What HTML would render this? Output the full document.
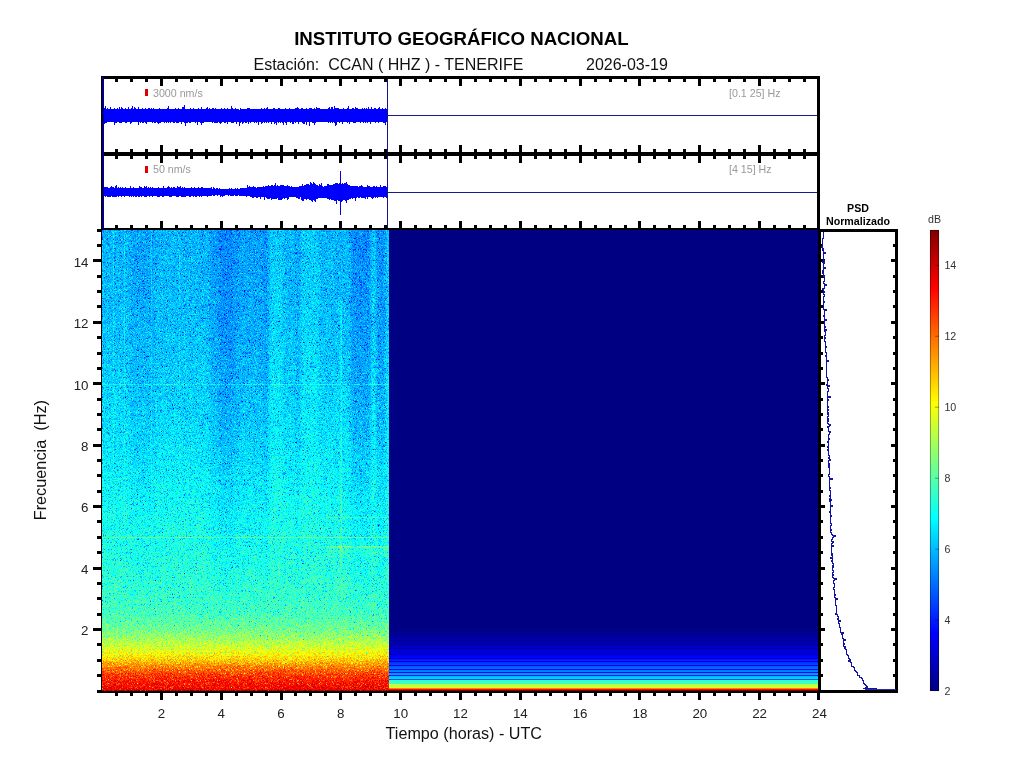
<!DOCTYPE html><html><head><meta charset="utf-8"><title>Espectrograma CCAN</title>
<style>html,body{margin:0;padding:0;background:#fff;overflow:hidden}body{width:1024px;height:768px;font-family:"Liberation Sans",sans-serif}svg{display:block;position:absolute;left:0;top:0;will-change:transform}text{font-family:"Liberation Sans",sans-serif}</style></head><body>
<svg width="1024" height="768" viewBox="0 0 1024 768">
<defs>
<filter id="jet" x="0" y="0" width="100%" height="100%" filterUnits="objectBoundingBox" color-interpolation-filters="sRGB">
<feTurbulence type="fractalNoise" baseFrequency="3.17 2.71" numOctaves="1" seed="11" result="t"/>
<feColorMatrix in="t" type="matrix" values="1 0 0 0 0  1 0 0 0 0  1 0 0 0 0  0 0 0 0 1" result="n0"/>
<feComponentTransfer in="n0" result="n">
<feFuncR type="table" tableValues="0.0800 0.1100 0.1500 0.2100 0.2800 0.3450 0.4000 0.4400 0.4650 0.4840 0.5000 0.5160 0.5320 0.5500 0.5680 0.5850 0.6000 0.6100 0.6200 0.6300 0.6400"/><feFuncG type="table" tableValues="0.0800 0.1100 0.1500 0.2100 0.2800 0.3450 0.4000 0.4400 0.4650 0.4840 0.5000 0.5160 0.5320 0.5500 0.5680 0.5850 0.6000 0.6100 0.6200 0.6300 0.6400"/><feFuncB type="table" tableValues="0.0800 0.1100 0.1500 0.2100 0.2800 0.3450 0.4000 0.4400 0.4650 0.4840 0.5000 0.5160 0.5320 0.5500 0.5680 0.5850 0.6000 0.6100 0.6200 0.6300 0.6400"/>
</feComponentTransfer>
<feComposite in="SourceGraphic" in2="n" operator="arithmetic" k1="0" k2="1" k3="1" k4="-0.5" result="v"/>
<feComponentTransfer in="v">
<feFuncR type="table" tableValues="0 0 0 0 0.5 1 1 1 0.5"/>
<feFuncG type="table" tableValues="0 0 0.5 1 1 1 0.5 0 0"/>
<feFuncB type="table" tableValues="0.5 1 1 1 0.5 0 0 0 0"/>
<feFuncA type="linear" slope="0" intercept="1"/>
</feComponentTransfer>
</filter>
<linearGradient id="gv" x1="0" y1="230" x2="0" y2="691" gradientUnits="userSpaceOnUse">
<stop offset="0.0003" stop-color="rgb(77,77,77)"/>
<stop offset="0.2002" stop-color="rgb(80,80,80)"/>
<stop offset="0.3334" stop-color="rgb(84,84,84)"/>
<stop offset="0.4667" stop-color="rgb(90,90,90)"/>
<stop offset="0.5999" stop-color="rgb(98,98,98)"/>
<stop offset="0.6666" stop-color="rgb(101,101,101)"/>
<stop offset="0.7332" stop-color="rgb(104,104,104)"/>
<stop offset="0.7998" stop-color="rgb(109,109,109)"/>
<stop offset="0.8331" stop-color="rgb(113,113,113)"/>
<stop offset="0.8664" stop-color="rgb(124,124,124)"/>
<stop offset="0.8831" stop-color="rgb(134,134,134)"/>
<stop offset="0.8998" stop-color="rgb(145,145,145)"/>
<stop offset="0.9197" stop-color="rgb(159,159,159)"/>
<stop offset="0.9331" stop-color="rgb(172,172,172)"/>
<stop offset="0.9464" stop-color="rgb(189,189,189)"/>
<stop offset="0.9631" stop-color="rgb(207,207,207)"/>
<stop offset="0.9797" stop-color="rgb(218,218,218)"/>
<stop offset="0.9930" stop-color="rgb(223,223,223)"/>
<stop offset="0.9970" stop-color="rgb(226,226,226)"/>
<stop offset="0.9997" stop-color="rgb(255,255,255)"/>
</linearGradient>
<linearGradient id="cb" x1="0" y1="0" x2="0" y2="1">
<stop offset="0" stop-color="rgb(128, 0, 0)"/>
<stop offset="0.125" stop-color="rgb(255, 0, 0)"/>
<stop offset="0.375" stop-color="rgb(255, 255, 0)"/>
<stop offset="0.625" stop-color="rgb(0, 255, 255)"/>
<stop offset="0.875" stop-color="rgb(0, 0, 255)"/>
<stop offset="1" stop-color="rgb(0, 0, 128)"/>
</linearGradient>
<linearGradient id="fg" x1="0" y1="230" x2="0" y2="630" gradientUnits="userSpaceOnUse"><stop offset="0" stop-color="#fff"/><stop offset="0.5" stop-color="#ccc"/><stop offset="0.8" stop-color="#555"/><stop offset="1" stop-color="#000"/></linearGradient>
<mask id="fade" maskUnits="userSpaceOnUse" x="100" y="228" width="292" height="465"><rect x="100" y="228" width="292" height="465" fill="url(#fg)"/></mask>
<filter id="hb" x="100" y="228" width="292" height="465" filterUnits="userSpaceOnUse" color-interpolation-filters="sRGB"><feGaussianBlur stdDeviation="1.6 0"/></filter>
</defs>
<rect width="1024" height="768" fill="#fff"/>
<text x="294.2" y="45" font-size="18.67" font-weight="bold" fill="#000" xml:space="preserve">INSTITUTO GEOGRÁFICO NACIONAL</text>
<text x="253.5" y="70.4" font-size="16" fill="#111" xml:space="preserve">Estación:  CCAN ( HHZ ) - TENERIFE</text>
<text x="586" y="70.4" font-size="16" fill="#111">2026-03-19</text>
<g filter="url(#jet)">
<rect x="102" y="230" width="287" height="461" fill="url(#gv)"/>
<g filter="url(#hb)">
<rect x="131" y="230" width="24" height="400" fill="#000" opacity="0.05" mask="url(#fade)"/>
<rect x="210" y="230" width="9" height="400" fill="#000" opacity="0.08" mask="url(#fade)"/>
<rect x="219" y="230" width="15" height="400" fill="#000" opacity="0.15" mask="url(#fade)"/>
<rect x="234" y="230" width="6" height="400" fill="#000" opacity="0.09" mask="url(#fade)"/>
<rect x="240" y="230" width="23" height="400" fill="#000" opacity="0.06" mask="url(#fade)"/>
<rect x="263" y="230" width="6" height="400" fill="#000" opacity="0.10" mask="url(#fade)"/>
<rect x="269" y="230" width="14" height="400" fill="#fff" opacity="0.04" mask="url(#fade)"/>
<rect x="297" y="230" width="2" height="400" fill="#000" opacity="0.10" mask="url(#fade)"/>
<rect x="301" y="230" width="18" height="400" fill="#fff" opacity="0.04" mask="url(#fade)"/>
<rect x="351" y="230" width="20" height="400" fill="#000" opacity="0.13" mask="url(#fade)"/>
<rect x="371" y="230" width="5" height="400" fill="#fff" opacity="0.04" mask="url(#fade)"/>
<rect x="376" y="230" width="10" height="400" fill="#000" opacity="0.11" mask="url(#fade)"/>
<rect x="386" y="230" width="3" height="400" fill="#fff" opacity="0.05" mask="url(#fade)"/>
</g>
<rect x="113" y="230" width="1" height="400" fill="#fff" opacity="0.05" mask="url(#fade)"/>
<rect x="124" y="230" width="1" height="400" fill="#fff" opacity="0.05" mask="url(#fade)"/>
<rect x="151" y="230" width="1" height="400" fill="#fff" opacity="0.05" mask="url(#fade)"/>
<rect x="179" y="230" width="1" height="400" fill="#fff" opacity="0.04" mask="url(#fade)"/>
<rect x="340.5" y="300" width="1.5" height="300" fill="#fff" opacity="0.08"/>
<rect x="326" y="548" width="63" height="9" fill="#fff" opacity="0.035"/>
<rect x="102" y="384" width="287" height="1" fill="#fff" opacity="0.09"/>
<rect x="102" y="537" width="287" height="1" fill="#fff" opacity="0.12"/>
<rect x="326" y="546" width="63" height="1.6" fill="#fff" opacity="0.17"/>
<rect x="327" y="517" width="62" height="1" fill="#fff" opacity="0.09"/>
</g>
<g shape-rendering="crispEdges">
<rect x="389" y="230" width="429" height="461" fill="rgb(0,0,131)"/>
<rect x="389" y="627" width="429" height="1" fill="rgb(0, 0, 131)"/>
<rect x="389" y="628" width="429" height="1" fill="rgb(0, 0, 135)"/>
<rect x="389" y="629" width="429" height="1" fill="rgb(0, 0, 139)"/>
<rect x="389" y="630" width="429" height="1" fill="rgb(0, 0, 131)"/>
<rect x="389" y="631" width="429" height="1" fill="rgb(0, 0, 146)"/>
<rect x="389" y="632" width="429" height="1" fill="rgb(0, 0, 149)"/>
<rect x="389" y="633" width="429" height="1" fill="rgb(0, 0, 151)"/>
<rect x="389" y="634" width="429" height="1" fill="rgb(0, 0, 154)"/>
<rect x="389" y="635" width="429" height="1" fill="rgb(0, 0, 135)"/>
<rect x="389" y="636" width="429" height="1" fill="rgb(0, 0, 159)"/>
<rect x="389" y="637" width="429" height="1" fill="rgb(0, 0, 162)"/>
<rect x="389" y="638" width="429" height="1" fill="rgb(0, 0, 164)"/>
<rect x="389" y="639" width="429" height="1" fill="rgb(0, 0, 167)"/>
<rect x="389" y="640" width="429" height="1" fill="rgb(0, 0, 143)"/>
<rect x="389" y="641" width="429" height="1" fill="rgb(0, 0, 174)"/>
<rect x="389" y="642" width="429" height="1" fill="rgb(0, 0, 178)"/>
<rect x="389" y="643" width="429" height="1" fill="rgb(0, 0, 182)"/>
<rect x="389" y="644" width="429" height="1" fill="rgb(0, 0, 151)"/>
<rect x="389" y="645" width="429" height="1" fill="rgb(0, 0, 190)"/>
<rect x="389" y="646" width="429" height="1" fill="rgb(0, 0, 194)"/>
<rect x="389" y="647" width="429" height="1" fill="rgb(0, 0, 198)"/>
<rect x="389" y="648" width="429" height="1" fill="rgb(0, 0, 160)"/>
<rect x="389" y="649" width="429" height="1" fill="rgb(0, 0, 208)"/>
<rect x="389" y="650" width="429" height="1" fill="rgb(0, 0, 213)"/>
<rect x="389" y="651" width="429" height="1" fill="rgb(0, 0, 218)"/>
<rect x="389" y="652" width="429" height="1" fill="rgb(0, 0, 223)"/>
<rect x="389" y="653" width="429" height="1" fill="rgb(0, 0, 228)"/>
<rect x="389" y="654" width="429" height="1" fill="rgb(0, 0, 179)"/>
<rect x="389" y="655" width="429" height="1" fill="rgb(0, 0, 246)"/>
<rect x="389" y="656" width="429" height="1" fill="rgb(0, 0, 255)"/>
<rect x="389" y="657" width="429" height="1" fill="rgb(0, 5, 255)"/>
<rect x="389" y="658" width="429" height="1" fill="rgb(0, 0, 199)"/>
<rect x="389" y="659" width="429" height="1" fill="rgb(0, 23, 255)"/>
<rect x="389" y="660" width="429" height="1" fill="rgb(0, 32, 255)"/>
<rect x="389" y="661" width="429" height="1" fill="rgb(0, 0, 213)"/>
<rect x="389" y="662" width="429" height="1" fill="rgb(0, 50, 255)"/>
<rect x="389" y="663" width="429" height="1" fill="rgb(0, 59, 255)"/>
<rect x="389" y="664" width="429" height="1" fill="rgb(0, 68, 255)"/>
<rect x="389" y="665" width="429" height="1" fill="rgb(0, 0, 233)"/>
<rect x="389" y="666" width="429" height="1" fill="rgb(0, 88, 255)"/>
<rect x="389" y="667" width="429" height="1" fill="rgb(0, 100, 255)"/>
<rect x="389" y="668" width="429" height="1" fill="rgb(0, 112, 255)"/>
<rect x="389" y="669" width="429" height="1" fill="rgb(0, 0, 255)"/>
<rect x="389" y="670" width="429" height="1" fill="rgb(0, 125, 255)"/>
<rect x="389" y="671" width="429" height="1" fill="rgb(0, 131, 255)"/>
<rect x="389" y="672" width="429" height="1" fill="rgb(0, 8, 255)"/>
<rect x="389" y="673" width="429" height="1" fill="rgb(0, 148, 255)"/>
<rect x="389" y="674" width="429" height="1" fill="rgb(0, 158, 255)"/>
<rect x="389" y="675" width="429" height="1" fill="rgb(0, 25, 255)"/>
<rect x="389" y="676" width="429" height="1" fill="rgb(0, 184, 255)"/>
<rect x="389" y="677" width="429" height="1" fill="rgb(0, 199, 255)"/>
<rect x="389" y="678" width="429" height="1" fill="rgb(0, 214, 255)"/>
<rect x="389" y="679" width="429" height="1" fill="rgb(0, 74, 255)"/>
<rect x="389" y="680" width="429" height="1" fill="rgb(46, 255, 209)"/>
<rect x="389" y="681" width="429" height="1" fill="rgb(53, 255, 202)"/>
<rect x="389" y="682" width="429" height="1" fill="rgb(60, 255, 195)"/>
<rect x="389" y="683" width="429" height="1" fill="rgb(66, 255, 189)"/>
<rect x="389" y="684" width="429" height="1" fill="rgb(189, 255, 66)"/>
<rect x="389" y="685" width="429" height="1" fill="rgb(195, 255, 60)"/>
<rect x="389" y="686" width="429" height="1" fill="rgb(202, 255, 53)"/>
<rect x="389" y="687" width="429" height="1" fill="rgb(209, 255, 46)"/>
<rect x="389" y="688" width="429" height="1" fill="rgb(255, 128, 0)"/>
<rect x="389" y="689" width="429" height="1" fill="rgb(255, 5, 0)"/>
<rect x="389" y="690" width="429" height="1" fill="rgb(128, 0, 0)"/>
</g>
<g shape-rendering="crispEdges" fill="none">
<path d="M102 109.0v14.4M103 107.1v15.0M104 107.8v16.0M105 105.9v16.8M106 108.6v14.3M107 108.1v13.6M108 109.2v12.5M109 109.2v13.2M110 107.0v14.6M111 108.5v13.7M112 108.8v13.2M113 109.1v13.3M114 108.4v16.5M115 108.9v13.8M116 109.4v13.1M117 108.2v13.8M118 108.6v13.6M119 107.2v15.3M120 108.5v14.4M121 107.3v15.2M122 107.6v14.1M123 109.3v12.6M124 109.3v12.8M125 108.3v14.5M126 108.9v13.9M127 109.2v12.7M128 107.0v14.9M129 108.9v13.4M130 108.7v15.3M131 108.2v14.5M132 106.0v16.1M133 109.4v12.3M134 107.3v14.3M135 107.7v14.4M136 108.6v13.2M137 108.9v12.8M138 107.2v18.0M139 109.0v13.0M140 109.4v13.5M141 108.7v12.9M142 108.2v14.3M143 109.2v13.4M144 109.0v12.9M145 108.2v14.5M146 109.1v14.8M147 109.4v12.5M148 108.1v14.1M149 108.1v14.0M150 109.2v12.7M151 108.3v14.0M152 109.3v13.2M153 108.4v13.8M154 109.0v13.7M155 108.9v14.0M156 109.3v12.5M157 109.2v13.5M158 109.0v15.0M159 108.1v14.4M160 108.8v14.0M161 109.1v12.9M162 109.1v13.1M163 108.9v13.3M164 108.9v14.0M165 108.7v12.9M166 109.4v13.2M167 108.4v13.9M168 105.7v16.9M169 109.1v12.8M170 108.7v14.0M171 108.6v13.7M172 108.8v13.5M173 108.5v14.3M174 108.7v14.2M175 107.7v14.5M176 109.4v13.2M177 109.2v13.3M178 108.2v14.7M179 108.9v13.4M180 109.2v12.9M181 109.2v14.5M182 107.0v15.1M183 106.9v15.3M184 105.4v17.5M185 109.4v16.2M186 108.9v14.0M187 109.2v13.6M188 109.3v12.3M189 109.4v13.5M190 107.7v15.1M191 108.8v13.2M192 109.1v12.7M193 107.7v14.1M194 109.0v13.0M195 108.7v14.7M196 109.1v12.5M197 109.2v16.0M198 108.3v13.9M199 108.9v13.4M200 109.0v13.8M201 107.3v17.7M202 109.4v13.3M203 109.3v13.4M204 109.1v12.8M205 109.2v13.0M206 108.1v14.3M207 107.4v14.7M208 108.8v13.5M209 107.8v14.1M210 109.4v12.2M211 108.6v13.7M212 108.4v14.4M213 108.0v13.7M214 109.4v13.3M215 108.4v14.3M216 108.7v14.0M217 108.6v14.2M218 109.1v12.5M219 109.3v13.4M220 108.6v15.6M221 108.3v14.3M222 108.5v13.1M223 109.3v12.6M224 108.4v14.5M225 108.8v13.8M226 108.5v13.1M227 108.4v15.2M228 109.4v12.6M229 108.5v13.5M230 108.8v12.9M231 106.4v16.5M232 108.3v14.6M233 109.2v13.7M234 109.3v13.0M235 108.3v14.0M236 109.1v15.3M237 109.4v12.8M238 109.3v12.8M239 109.5v16.1M240 108.1v14.4M241 108.9v13.2M242 108.9v14.8M243 109.3v13.4M244 109.1v12.8M245 108.9v14.0M246 108.6v14.3M247 108.4v13.2M248 108.4v15.7M249 108.1v13.6M250 109.0v13.6M251 108.5v13.5M252 109.2v12.6M253 108.7v13.1M254 108.8v14.6M255 109.0v12.7M256 108.6v14.2M257 108.9v13.4M258 109.4v15.5M259 108.7v13.7M260 109.1v12.8M261 108.1v16.3M262 109.4v13.2M263 108.6v12.9M264 108.3v14.5M265 109.3v12.5M266 108.1v14.5M267 107.2v15.2M268 109.1v13.7M269 109.3v12.6M270 109.3v12.4M271 108.9v14.6M272 109.0v13.2M273 108.2v14.0M274 108.1v16.1M275 108.7v13.8M276 108.5v16.0M277 109.0v13.2M278 108.3v14.3M279 108.1v13.9M280 109.1v13.5M281 108.7v13.1M282 108.5v14.4M283 109.2v15.4M284 109.4v12.7M285 108.4v14.6M286 109.2v15.3M287 108.5v13.6M288 109.2v12.3M289 108.1v13.6M290 108.9v13.8M291 109.4v12.8M292 109.2v14.5M293 108.9v15.5M294 109.4v12.2M295 108.4v14.4M296 108.1v14.3M297 107.4v14.6M298 108.1v15.9M299 109.1v13.1M300 108.9v13.0M301 108.1v13.7M302 108.3v14.4M303 109.0v14.7M304 109.2v15.1M305 109.4v12.9M306 108.2v16.4M307 109.3v12.9M308 109.1v13.0M309 108.4v17.3M310 108.3v13.7M311 108.4v13.4M312 109.2v13.6M313 108.9v14.1M314 108.3v17.1M315 108.8v13.9M316 106.5v15.5M317 108.1v14.3M318 108.2v14.0M319 108.1v13.6M320 109.1v12.9M321 109.1v13.3M322 109.4v12.6M323 109.0v12.8M324 109.4v12.3M325 108.5v13.1M326 108.9v13.1M327 109.0v13.3M328 108.2v14.8M329 106.8v15.0M330 108.8v13.9M331 107.2v14.6M332 106.9v15.9M333 108.9v13.3M334 105.8v17.1M335 108.3v17.5M336 108.1v16.5M337 108.1v14.0M338 108.3v13.5M339 108.9v13.9M340 109.1v13.0M341 109.3v12.6M342 109.4v14.6M343 108.3v13.5M344 108.6v13.4M345 108.8v13.6M346 109.4v13.0M347 108.4v14.3M348 105.9v15.8M349 109.3v14.5M350 108.5v13.1M351 108.7v12.9M352 108.1v13.6M353 108.4v14.3M354 108.8v14.2M355 106.7v16.2M356 108.4v13.4M357 108.3v13.5M358 109.2v12.8M359 109.4v12.4M360 108.5v14.3M361 109.3v13.0M362 108.2v14.1M363 109.3v13.7M364 108.3v13.6M365 108.9v13.7M366 108.4v13.2M367 108.5v14.4M368 107.4v14.2M369 108.6v13.6M370 109.3v14.2M371 106.5v15.5M372 109.1v13.2M373 108.6v13.7M374 107.5v14.3M375 108.2v14.5M376 109.4v13.0M377 108.5v13.6M378 107.5v15.4M379 107.2v14.6M380 109.4v12.9M381 109.2v13.2M382 108.3v13.5M383 109.4v13.4M384 109.4v13.3M385 108.4v16.7M386 109.1v12.5M387 108.5v14.3" stroke="#0000ff" stroke-width="1" transform="translate(0.5,0)"/>
<path d="M102 187.5v8.9M103 187.8v8.9M104 187.2v8.8M105 187.3v9.6M106 187.2v9.1M107 187.4v9.2M108 187.6v9.2M109 187.6v9.1M110 186.7v9.8M111 186.0v10.1M112 186.6v10.6M113 187.4v9.2M114 188.0v8.6M115 186.2v10.6M116 185.2v11.6M117 187.9v8.1M118 187.4v9.3M119 187.9v8.1M120 186.7v9.7M121 187.8v8.9M122 187.1v9.3M123 188.0v8.3M124 187.7v8.9M125 187.2v8.8M126 188.0v8.1M127 188.0v8.4M128 187.9v8.5M129 187.8v9.0M130 185.5v10.9M131 188.0v8.7M132 187.5v8.8M133 187.2v9.8M134 187.9v8.3M135 187.7v9.0M136 187.6v9.1M137 187.7v8.5M138 187.5v9.2M139 185.5v11.0M140 187.3v8.9M141 187.4v9.3M142 187.8v8.4M143 187.8v8.3M144 186.1v10.7M145 187.2v9.5M146 186.0v10.5M147 187.7v8.2M148 187.4v8.9M149 188.0v8.5M150 187.3v9.1M151 187.7v8.4M152 187.4v9.2M153 187.5v8.8M154 188.0v8.3M155 187.5v8.6M156 187.5v8.7M157 187.9v8.6M158 186.6v10.2M159 188.0v8.6M160 188.0v8.4M161 187.6v8.8M162 187.7v9.0M163 185.9v10.7M164 187.8v8.1M165 188.1v8.2M166 187.8v8.3M167 187.3v9.1M168 185.9v10.2M169 187.4v9.1M170 187.9v8.8M171 187.4v9.2M172 187.6v8.3M173 187.4v8.8M174 186.7v9.3M175 187.9v8.2M176 187.8v8.7M177 186.3v10.4M178 187.3v9.3M179 186.5v9.3M180 185.7v10.4M181 187.9v8.6M182 187.3v9.2M183 187.6v9.0M184 187.4v9.2M185 187.7v8.8M186 187.7v8.4M187 187.7v8.2M188 187.7v8.6M189 188.2v8.4M190 187.6v9.0M191 187.3v8.6M192 188.1v8.2M193 187.9v8.8M194 187.4v8.5M195 187.9v8.7M196 187.7v8.8M197 187.8v8.5M198 187.4v8.7M199 187.7v9.0M200 187.9v8.2M201 186.7v9.8M202 186.5v9.7M203 188.3v7.5M204 187.8v8.5M205 187.9v8.2M206 187.9v7.8M207 187.9v8.6M208 188.0v8.2M209 188.0v8.0M210 188.4v7.2M211 187.4v8.6M212 188.8v6.6M213 187.3v8.2M214 188.4v7.4M215 188.6v6.5M216 188.0v7.1M217 188.0v7.7M218 188.9v6.2M219 187.6v7.5M220 188.5v8.0M221 188.5v7.0M222 188.8v7.7M223 189.0v7.3M224 188.8v6.7M225 188.7v6.3M226 188.7v6.7M227 188.8v6.6M228 188.8v6.7M229 187.9v7.3M230 188.6v6.9M231 188.4v7.1M232 188.8v6.7M233 188.7v6.8M234 189.1v6.0M235 187.8v7.7M236 188.5v7.1M237 188.3v7.3M238 188.6v6.6M239 188.6v7.2M240 188.2v7.6M241 188.4v7.6M242 188.4v7.7M243 187.9v8.4M244 187.9v8.3M245 188.1v8.3M246 187.8v9.5M247 185.3v11.0M248 187.2v8.9M249 186.3v9.8M250 187.0v9.7M251 187.0v9.7M252 186.9v11.5M253 186.3v11.3M254 187.1v10.1M255 186.7v9.8M256 187.5v10.0M257 186.9v10.6M258 187.0v9.6M259 187.2v9.3M260 186.5v12.3M261 186.5v10.9M262 187.3v9.5M263 186.4v10.8M264 186.8v13.1M265 186.1v11.3M266 185.7v11.8M267 186.3v12.6M268 184.9v14.2M269 186.0v13.2M270 185.5v12.9M271 185.2v14.5M272 185.1v13.6M273 185.7v12.8M274 184.9v13.6M275 182.7v16.6M276 185.9v13.3M277 185.3v13.1M278 185.5v14.0M279 185.8v14.3M280 184.9v15.2M281 184.8v15.4M282 184.7v14.1M283 184.6v13.8M284 185.6v13.6M285 185.7v12.5M286 185.8v12.3M287 185.4v14.4M288 185.8v13.3M289 186.1v11.2M290 186.8v9.9M291 186.4v10.5M292 187.0v9.8M293 187.4v9.8M294 187.3v10.1M295 187.1v10.2M296 187.4v10.1M297 186.9v11.4M298 186.5v12.4M299 186.0v12.5M300 185.6v11.1M301 186.4v13.5M302 184.0v16.9M303 185.5v15.9M304 185.1v13.5M305 185.4v13.9M306 184.2v15.7M307 184.1v15.3M308 184.1v15.2M309 184.5v15.9M310 181.9v18.3M311 183.4v17.1M312 183.9v17.7M313 182.2v17.8M314 183.1v17.5M315 183.9v18.1M316 184.7v14.0M317 185.4v13.8M318 185.9v12.0M319 183.6v14.6M320 185.4v12.7M321 183.3v14.3M322 186.2v11.7M323 186.5v11.6M324 185.9v12.3M325 186.0v12.1M326 186.2v11.5M327 184.0v14.6M328 184.4v14.3M329 184.8v15.6M330 184.5v14.9M331 184.6v15.3M332 184.5v15.2M333 184.4v15.5M334 183.5v17.3M335 183.3v17.4M336 183.2v21.1M337 183.0v16.5M338 183.6v17.6M339 183.1v18.0M340 183.6v16.8M341 183.7v16.9M342 183.0v18.2M343 184.0v16.2M344 183.3v16.6M345 182.7v18.5M346 181.9v21.0M347 184.1v15.7M348 184.6v15.6M349 184.8v14.0M350 185.7v13.5M351 186.2v12.0M352 185.7v13.0M353 186.0v12.1M354 186.1v12.1M355 185.7v14.8M356 186.0v11.7M357 186.0v11.4M358 186.5v11.0M359 186.4v11.2M360 186.4v10.6M361 185.4v12.2M362 186.2v11.4M363 186.6v10.9M364 186.5v11.5M365 187.0v12.4M366 187.0v10.0M367 185.2v13.9M368 186.3v10.9M369 185.7v11.4M370 186.5v10.7M371 187.1v10.7M372 186.7v12.1M373 186.2v11.6M374 186.3v10.8M375 186.7v11.1M376 186.4v10.6M377 186.7v10.9M378 186.9v10.1M379 186.7v10.2M380 184.6v12.2M381 186.9v10.1M382 187.0v9.7M383 185.9v11.6M384 186.4v10.4M385 186.4v10.4M386 186.9v10.8M387 186.8v10.1" stroke="#0000ff" stroke-width="1" transform="translate(0.5,0)"/>
<rect x="340" y="171" width="1" height="44" fill="#0000e0"/>
<rect x="341" y="184" width="1" height="18" fill="#0000ff"/>
<rect x="388" y="115" width="430" height="1" fill="#1a1a90"/>
<rect x="388" y="192" width="430" height="1" fill="#1a1a90"/>
<rect x="387" y="76" width="1" height="153" fill="#141488"/>
</g>
<g shape-rendering="crispEdges" fill="#000">
<rect x="101" y="76" width="719" height="3"/>
<rect x="101" y="152" width="719" height="4"/>
<rect x="101" y="228" width="719" height="2"/>
<rect x="817" y="76" width="3" height="154"/>
<rect x="101" y="76" width="3" height="154"/>
<rect x="102" y="77" width="2" height="152" fill="#000080"/>
<rect x="101" y="229" width="1" height="464"/>
<rect x="101" y="691" width="720" height="2"/>
<rect x="818" y="229" width="3" height="464"/>
<rect x="818" y="229" width="80" height="3"/>
<rect x="895" y="229" width="3" height="464"/>
<rect x="818" y="690" width="80" height="3"/>
<rect x="115" y="79" width="3" height="3"/>
<rect x="115" y="149" width="3" height="3"/>
<rect x="115" y="156" width="3" height="3"/>
<rect x="115" y="225" width="3" height="3"/>
<rect x="115" y="693" width="3" height="3"/>
<rect x="130" y="79" width="3" height="3"/>
<rect x="130" y="149" width="3" height="3"/>
<rect x="130" y="156" width="3" height="3"/>
<rect x="130" y="225" width="3" height="3"/>
<rect x="130" y="693" width="3" height="3"/>
<rect x="145" y="79" width="3" height="3"/>
<rect x="145" y="149" width="3" height="3"/>
<rect x="145" y="156" width="3" height="3"/>
<rect x="145" y="225" width="3" height="3"/>
<rect x="145" y="693" width="3" height="3"/>
<rect x="160" y="79" width="3" height="7"/>
<rect x="160" y="145" width="3" height="7"/>
<rect x="160" y="156" width="3" height="7"/>
<rect x="160" y="221" width="3" height="7"/>
<rect x="160" y="693" width="3" height="7"/>
<rect x="175" y="79" width="3" height="3"/>
<rect x="175" y="149" width="3" height="3"/>
<rect x="175" y="156" width="3" height="3"/>
<rect x="175" y="225" width="3" height="3"/>
<rect x="175" y="693" width="3" height="3"/>
<rect x="190" y="79" width="3" height="3"/>
<rect x="190" y="149" width="3" height="3"/>
<rect x="190" y="156" width="3" height="3"/>
<rect x="190" y="225" width="3" height="3"/>
<rect x="190" y="693" width="3" height="3"/>
<rect x="205" y="79" width="3" height="3"/>
<rect x="205" y="149" width="3" height="3"/>
<rect x="205" y="156" width="3" height="3"/>
<rect x="205" y="225" width="3" height="3"/>
<rect x="205" y="693" width="3" height="3"/>
<rect x="220" y="79" width="3" height="7"/>
<rect x="220" y="145" width="3" height="7"/>
<rect x="220" y="156" width="3" height="7"/>
<rect x="220" y="221" width="3" height="7"/>
<rect x="220" y="693" width="3" height="7"/>
<rect x="235" y="79" width="3" height="3"/>
<rect x="235" y="149" width="3" height="3"/>
<rect x="235" y="156" width="3" height="3"/>
<rect x="235" y="225" width="3" height="3"/>
<rect x="235" y="693" width="3" height="3"/>
<rect x="250" y="79" width="3" height="3"/>
<rect x="250" y="149" width="3" height="3"/>
<rect x="250" y="156" width="3" height="3"/>
<rect x="250" y="225" width="3" height="3"/>
<rect x="250" y="693" width="3" height="3"/>
<rect x="265" y="79" width="3" height="3"/>
<rect x="265" y="149" width="3" height="3"/>
<rect x="265" y="156" width="3" height="3"/>
<rect x="265" y="225" width="3" height="3"/>
<rect x="265" y="693" width="3" height="3"/>
<rect x="280" y="79" width="3" height="7"/>
<rect x="280" y="145" width="3" height="7"/>
<rect x="280" y="156" width="3" height="7"/>
<rect x="280" y="221" width="3" height="7"/>
<rect x="280" y="693" width="3" height="7"/>
<rect x="294" y="79" width="3" height="3"/>
<rect x="294" y="149" width="3" height="3"/>
<rect x="294" y="156" width="3" height="3"/>
<rect x="294" y="225" width="3" height="3"/>
<rect x="294" y="693" width="3" height="3"/>
<rect x="309" y="79" width="3" height="3"/>
<rect x="309" y="149" width="3" height="3"/>
<rect x="309" y="156" width="3" height="3"/>
<rect x="309" y="225" width="3" height="3"/>
<rect x="309" y="693" width="3" height="3"/>
<rect x="324" y="79" width="3" height="3"/>
<rect x="324" y="149" width="3" height="3"/>
<rect x="324" y="156" width="3" height="3"/>
<rect x="324" y="225" width="3" height="3"/>
<rect x="324" y="693" width="3" height="3"/>
<rect x="339" y="79" width="3" height="7"/>
<rect x="339" y="145" width="3" height="7"/>
<rect x="339" y="156" width="3" height="7"/>
<rect x="339" y="221" width="3" height="7"/>
<rect x="339" y="693" width="3" height="7"/>
<rect x="354" y="79" width="3" height="3"/>
<rect x="354" y="149" width="3" height="3"/>
<rect x="354" y="156" width="3" height="3"/>
<rect x="354" y="225" width="3" height="3"/>
<rect x="354" y="693" width="3" height="3"/>
<rect x="369" y="79" width="3" height="3"/>
<rect x="369" y="149" width="3" height="3"/>
<rect x="369" y="156" width="3" height="3"/>
<rect x="369" y="225" width="3" height="3"/>
<rect x="369" y="693" width="3" height="3"/>
<rect x="384" y="79" width="3" height="3"/>
<rect x="384" y="149" width="3" height="3"/>
<rect x="384" y="156" width="3" height="3"/>
<rect x="384" y="225" width="3" height="3"/>
<rect x="384" y="693" width="3" height="3"/>
<rect x="399" y="79" width="3" height="7"/>
<rect x="399" y="145" width="3" height="7"/>
<rect x="399" y="156" width="3" height="7"/>
<rect x="399" y="221" width="3" height="7"/>
<rect x="399" y="693" width="3" height="7"/>
<rect x="414" y="79" width="3" height="3"/>
<rect x="414" y="149" width="3" height="3"/>
<rect x="414" y="156" width="3" height="3"/>
<rect x="414" y="225" width="3" height="3"/>
<rect x="414" y="693" width="3" height="3"/>
<rect x="429" y="79" width="3" height="3"/>
<rect x="429" y="149" width="3" height="3"/>
<rect x="429" y="156" width="3" height="3"/>
<rect x="429" y="225" width="3" height="3"/>
<rect x="429" y="693" width="3" height="3"/>
<rect x="444" y="79" width="3" height="3"/>
<rect x="444" y="149" width="3" height="3"/>
<rect x="444" y="156" width="3" height="3"/>
<rect x="444" y="225" width="3" height="3"/>
<rect x="444" y="693" width="3" height="3"/>
<rect x="459" y="79" width="3" height="7"/>
<rect x="459" y="145" width="3" height="7"/>
<rect x="459" y="156" width="3" height="7"/>
<rect x="459" y="221" width="3" height="7"/>
<rect x="459" y="693" width="3" height="7"/>
<rect x="474" y="79" width="3" height="3"/>
<rect x="474" y="149" width="3" height="3"/>
<rect x="474" y="156" width="3" height="3"/>
<rect x="474" y="225" width="3" height="3"/>
<rect x="474" y="693" width="3" height="3"/>
<rect x="489" y="79" width="3" height="3"/>
<rect x="489" y="149" width="3" height="3"/>
<rect x="489" y="156" width="3" height="3"/>
<rect x="489" y="225" width="3" height="3"/>
<rect x="489" y="693" width="3" height="3"/>
<rect x="504" y="79" width="3" height="3"/>
<rect x="504" y="149" width="3" height="3"/>
<rect x="504" y="156" width="3" height="3"/>
<rect x="504" y="225" width="3" height="3"/>
<rect x="504" y="693" width="3" height="3"/>
<rect x="519" y="79" width="3" height="7"/>
<rect x="519" y="145" width="3" height="7"/>
<rect x="519" y="156" width="3" height="7"/>
<rect x="519" y="221" width="3" height="7"/>
<rect x="519" y="693" width="3" height="7"/>
<rect x="534" y="79" width="3" height="3"/>
<rect x="534" y="149" width="3" height="3"/>
<rect x="534" y="156" width="3" height="3"/>
<rect x="534" y="225" width="3" height="3"/>
<rect x="534" y="693" width="3" height="3"/>
<rect x="549" y="79" width="3" height="3"/>
<rect x="549" y="149" width="3" height="3"/>
<rect x="549" y="156" width="3" height="3"/>
<rect x="549" y="225" width="3" height="3"/>
<rect x="549" y="693" width="3" height="3"/>
<rect x="564" y="79" width="3" height="3"/>
<rect x="564" y="149" width="3" height="3"/>
<rect x="564" y="156" width="3" height="3"/>
<rect x="564" y="225" width="3" height="3"/>
<rect x="564" y="693" width="3" height="3"/>
<rect x="579" y="79" width="3" height="7"/>
<rect x="579" y="145" width="3" height="7"/>
<rect x="579" y="156" width="3" height="7"/>
<rect x="579" y="221" width="3" height="7"/>
<rect x="579" y="693" width="3" height="7"/>
<rect x="594" y="79" width="3" height="3"/>
<rect x="594" y="149" width="3" height="3"/>
<rect x="594" y="156" width="3" height="3"/>
<rect x="594" y="225" width="3" height="3"/>
<rect x="594" y="693" width="3" height="3"/>
<rect x="609" y="79" width="3" height="3"/>
<rect x="609" y="149" width="3" height="3"/>
<rect x="609" y="156" width="3" height="3"/>
<rect x="609" y="225" width="3" height="3"/>
<rect x="609" y="693" width="3" height="3"/>
<rect x="624" y="79" width="3" height="3"/>
<rect x="624" y="149" width="3" height="3"/>
<rect x="624" y="156" width="3" height="3"/>
<rect x="624" y="225" width="3" height="3"/>
<rect x="624" y="693" width="3" height="3"/>
<rect x="638" y="79" width="3" height="7"/>
<rect x="638" y="145" width="3" height="7"/>
<rect x="638" y="156" width="3" height="7"/>
<rect x="638" y="221" width="3" height="7"/>
<rect x="638" y="693" width="3" height="7"/>
<rect x="653" y="79" width="3" height="3"/>
<rect x="653" y="149" width="3" height="3"/>
<rect x="653" y="156" width="3" height="3"/>
<rect x="653" y="225" width="3" height="3"/>
<rect x="653" y="693" width="3" height="3"/>
<rect x="668" y="79" width="3" height="3"/>
<rect x="668" y="149" width="3" height="3"/>
<rect x="668" y="156" width="3" height="3"/>
<rect x="668" y="225" width="3" height="3"/>
<rect x="668" y="693" width="3" height="3"/>
<rect x="683" y="79" width="3" height="3"/>
<rect x="683" y="149" width="3" height="3"/>
<rect x="683" y="156" width="3" height="3"/>
<rect x="683" y="225" width="3" height="3"/>
<rect x="683" y="693" width="3" height="3"/>
<rect x="698" y="79" width="3" height="7"/>
<rect x="698" y="145" width="3" height="7"/>
<rect x="698" y="156" width="3" height="7"/>
<rect x="698" y="221" width="3" height="7"/>
<rect x="698" y="693" width="3" height="7"/>
<rect x="713" y="79" width="3" height="3"/>
<rect x="713" y="149" width="3" height="3"/>
<rect x="713" y="156" width="3" height="3"/>
<rect x="713" y="225" width="3" height="3"/>
<rect x="713" y="693" width="3" height="3"/>
<rect x="728" y="79" width="3" height="3"/>
<rect x="728" y="149" width="3" height="3"/>
<rect x="728" y="156" width="3" height="3"/>
<rect x="728" y="225" width="3" height="3"/>
<rect x="728" y="693" width="3" height="3"/>
<rect x="743" y="79" width="3" height="3"/>
<rect x="743" y="149" width="3" height="3"/>
<rect x="743" y="156" width="3" height="3"/>
<rect x="743" y="225" width="3" height="3"/>
<rect x="743" y="693" width="3" height="3"/>
<rect x="758" y="79" width="3" height="7"/>
<rect x="758" y="145" width="3" height="7"/>
<rect x="758" y="156" width="3" height="7"/>
<rect x="758" y="221" width="3" height="7"/>
<rect x="758" y="693" width="3" height="7"/>
<rect x="773" y="79" width="3" height="3"/>
<rect x="773" y="149" width="3" height="3"/>
<rect x="773" y="156" width="3" height="3"/>
<rect x="773" y="225" width="3" height="3"/>
<rect x="773" y="693" width="3" height="3"/>
<rect x="788" y="79" width="3" height="3"/>
<rect x="788" y="149" width="3" height="3"/>
<rect x="788" y="156" width="3" height="3"/>
<rect x="788" y="225" width="3" height="3"/>
<rect x="788" y="693" width="3" height="3"/>
<rect x="803" y="79" width="3" height="3"/>
<rect x="803" y="149" width="3" height="3"/>
<rect x="803" y="156" width="3" height="3"/>
<rect x="803" y="225" width="3" height="3"/>
<rect x="803" y="693" width="3" height="3"/>
<rect x="817" y="693" width="3" height="7"/>
<rect x="97" y="674" width="4" height="3"/>
<rect x="821" y="674" width="2" height="3"/>
<rect x="893" y="674" width="2" height="3"/>
<rect x="97" y="659" width="4" height="3"/>
<rect x="821" y="659" width="2" height="3"/>
<rect x="893" y="659" width="2" height="3"/>
<rect x="97" y="643" width="4" height="3"/>
<rect x="821" y="643" width="2" height="3"/>
<rect x="893" y="643" width="2" height="3"/>
<rect x="93" y="628" width="8" height="3"/>
<rect x="821" y="628" width="4" height="3"/>
<rect x="891" y="628" width="4" height="3"/>
<rect x="97" y="613" width="4" height="3"/>
<rect x="821" y="613" width="2" height="3"/>
<rect x="893" y="613" width="2" height="3"/>
<rect x="97" y="597" width="4" height="3"/>
<rect x="821" y="597" width="2" height="3"/>
<rect x="893" y="597" width="2" height="3"/>
<rect x="97" y="582" width="4" height="3"/>
<rect x="821" y="582" width="2" height="3"/>
<rect x="893" y="582" width="2" height="3"/>
<rect x="93" y="567" width="8" height="3"/>
<rect x="821" y="567" width="4" height="3"/>
<rect x="891" y="567" width="4" height="3"/>
<rect x="97" y="551" width="4" height="3"/>
<rect x="821" y="551" width="2" height="3"/>
<rect x="893" y="551" width="2" height="3"/>
<rect x="97" y="536" width="4" height="3"/>
<rect x="821" y="536" width="2" height="3"/>
<rect x="893" y="536" width="2" height="3"/>
<rect x="97" y="520" width="4" height="3"/>
<rect x="821" y="520" width="2" height="3"/>
<rect x="893" y="520" width="2" height="3"/>
<rect x="93" y="505" width="8" height="3"/>
<rect x="821" y="505" width="4" height="3"/>
<rect x="891" y="505" width="4" height="3"/>
<rect x="97" y="490" width="4" height="3"/>
<rect x="821" y="490" width="2" height="3"/>
<rect x="893" y="490" width="2" height="3"/>
<rect x="97" y="474" width="4" height="3"/>
<rect x="821" y="474" width="2" height="3"/>
<rect x="893" y="474" width="2" height="3"/>
<rect x="97" y="459" width="4" height="3"/>
<rect x="821" y="459" width="2" height="3"/>
<rect x="893" y="459" width="2" height="3"/>
<rect x="93" y="444" width="8" height="3"/>
<rect x="821" y="444" width="4" height="3"/>
<rect x="891" y="444" width="4" height="3"/>
<rect x="97" y="428" width="4" height="3"/>
<rect x="821" y="428" width="2" height="3"/>
<rect x="893" y="428" width="2" height="3"/>
<rect x="97" y="413" width="4" height="3"/>
<rect x="821" y="413" width="2" height="3"/>
<rect x="893" y="413" width="2" height="3"/>
<rect x="97" y="398" width="4" height="3"/>
<rect x="821" y="398" width="2" height="3"/>
<rect x="893" y="398" width="2" height="3"/>
<rect x="93" y="382" width="8" height="3"/>
<rect x="821" y="382" width="4" height="3"/>
<rect x="891" y="382" width="4" height="3"/>
<rect x="97" y="367" width="4" height="3"/>
<rect x="821" y="367" width="2" height="3"/>
<rect x="893" y="367" width="2" height="3"/>
<rect x="97" y="352" width="4" height="3"/>
<rect x="821" y="352" width="2" height="3"/>
<rect x="893" y="352" width="2" height="3"/>
<rect x="97" y="336" width="4" height="3"/>
<rect x="821" y="336" width="2" height="3"/>
<rect x="893" y="336" width="2" height="3"/>
<rect x="93" y="321" width="8" height="3"/>
<rect x="821" y="321" width="4" height="3"/>
<rect x="891" y="321" width="4" height="3"/>
<rect x="97" y="305" width="4" height="3"/>
<rect x="821" y="305" width="2" height="3"/>
<rect x="893" y="305" width="2" height="3"/>
<rect x="97" y="290" width="4" height="3"/>
<rect x="821" y="290" width="2" height="3"/>
<rect x="893" y="290" width="2" height="3"/>
<rect x="97" y="275" width="4" height="3"/>
<rect x="821" y="275" width="2" height="3"/>
<rect x="893" y="275" width="2" height="3"/>
<rect x="93" y="259" width="8" height="3"/>
<rect x="821" y="259" width="4" height="3"/>
<rect x="891" y="259" width="4" height="3"/>
<rect x="97" y="244" width="4" height="3"/>
<rect x="821" y="244" width="2" height="3"/>
<rect x="893" y="244" width="2" height="3"/>
<rect x="97" y="229" width="4" height="3"/>
<rect x="97" y="690" width="4" height="3"/>
</g>
<g shape-rendering="crispEdges" fill="#1212a6">
<rect x="823" y="232" width="1" height="1"/>
<rect x="823" y="233" width="1" height="1"/>
<rect x="823" y="234" width="1" height="1"/>
<rect x="823" y="235" width="1" height="1"/>
<rect x="823" y="236" width="1" height="1"/>
<rect x="823" y="237" width="1" height="1"/>
<rect x="822" y="238" width="2" height="1"/>
<rect x="822" y="239" width="1" height="1"/>
<rect x="822" y="240" width="1" height="1"/>
<rect x="822" y="241" width="1" height="1"/>
<rect x="822" y="242" width="1" height="1"/>
<rect x="822" y="243" width="1" height="1"/>
<rect x="822" y="244" width="1" height="1"/>
<rect x="822" y="245" width="1" height="1"/>
<rect x="821" y="246" width="2" height="1"/>
<rect x="821" y="247" width="2" height="1"/>
<rect x="822" y="248" width="2" height="1"/>
<rect x="822" y="249" width="2" height="1"/>
<rect x="822" y="250" width="2" height="1"/>
<rect x="823" y="251" width="1" height="1"/>
<rect x="823" y="252" width="3" height="1"/>
<rect x="823" y="253" width="3" height="1"/>
<rect x="823" y="254" width="1" height="1"/>
<rect x="823" y="255" width="1" height="1"/>
<rect x="823" y="256" width="1" height="1"/>
<rect x="823" y="257" width="1" height="1"/>
<rect x="823" y="258" width="1" height="1"/>
<rect x="823" y="259" width="1" height="1"/>
<rect x="823" y="260" width="2" height="1"/>
<rect x="822" y="261" width="3" height="1"/>
<rect x="822" y="262" width="3" height="1"/>
<rect x="823" y="263" width="2" height="1"/>
<rect x="823" y="264" width="1" height="1"/>
<rect x="823" y="265" width="1" height="1"/>
<rect x="823" y="266" width="1" height="1"/>
<rect x="823" y="267" width="3" height="1"/>
<rect x="823" y="268" width="3" height="1"/>
<rect x="823" y="269" width="1" height="1"/>
<rect x="822" y="270" width="2" height="1"/>
<rect x="822" y="271" width="2" height="1"/>
<rect x="822" y="272" width="2" height="1"/>
<rect x="822" y="273" width="2" height="1"/>
<rect x="823" y="274" width="1" height="1"/>
<rect x="823" y="275" width="2" height="1"/>
<rect x="823" y="276" width="2" height="1"/>
<rect x="823" y="277" width="2" height="1"/>
<rect x="824" y="278" width="1" height="1"/>
<rect x="824" y="279" width="1" height="1"/>
<rect x="824" y="280" width="1" height="1"/>
<rect x="823" y="281" width="2" height="1"/>
<rect x="823" y="282" width="1" height="1"/>
<rect x="823" y="283" width="2" height="1"/>
<rect x="824" y="284" width="3" height="1"/>
<rect x="824" y="285" width="3" height="1"/>
<rect x="824" y="286" width="1" height="1"/>
<rect x="824" y="287" width="1" height="1"/>
<rect x="822" y="288" width="3" height="1"/>
<rect x="822" y="289" width="2" height="1"/>
<rect x="823" y="290" width="1" height="1"/>
<rect x="823" y="291" width="2" height="1"/>
<rect x="823" y="292" width="2" height="1"/>
<rect x="823" y="293" width="1" height="1"/>
<rect x="823" y="294" width="2" height="1"/>
<rect x="824" y="295" width="1" height="1"/>
<rect x="823" y="296" width="2" height="1"/>
<rect x="823" y="297" width="1" height="1"/>
<rect x="823" y="298" width="1" height="1"/>
<rect x="823" y="299" width="1" height="1"/>
<rect x="823" y="300" width="1" height="1"/>
<rect x="823" y="301" width="2" height="1"/>
<rect x="823" y="302" width="2" height="1"/>
<rect x="823" y="303" width="1" height="1"/>
<rect x="823" y="304" width="1" height="1"/>
<rect x="823" y="305" width="1" height="1"/>
<rect x="823" y="306" width="1" height="1"/>
<rect x="823" y="307" width="1" height="1"/>
<rect x="823" y="308" width="1" height="1"/>
<rect x="823" y="309" width="4" height="1"/>
<rect x="824" y="310" width="3" height="1"/>
<rect x="824" y="311" width="1" height="1"/>
<rect x="824" y="312" width="1" height="1"/>
<rect x="824" y="313" width="1" height="1"/>
<rect x="824" y="314" width="1" height="1"/>
<rect x="823" y="315" width="2" height="1"/>
<rect x="823" y="316" width="2" height="1"/>
<rect x="824" y="317" width="1" height="1"/>
<rect x="824" y="318" width="1" height="1"/>
<rect x="824" y="319" width="3" height="1"/>
<rect x="824" y="320" width="3" height="1"/>
<rect x="824" y="321" width="1" height="1"/>
<rect x="824" y="322" width="1" height="1"/>
<rect x="824" y="323" width="1" height="1"/>
<rect x="824" y="324" width="1" height="1"/>
<rect x="824" y="325" width="1" height="1"/>
<rect x="824" y="326" width="2" height="1"/>
<rect x="824" y="327" width="2" height="1"/>
<rect x="824" y="328" width="1" height="1"/>
<rect x="824" y="329" width="3" height="1"/>
<rect x="824" y="330" width="3" height="1"/>
<rect x="824" y="331" width="2" height="1"/>
<rect x="825" y="332" width="1" height="1"/>
<rect x="825" y="333" width="1" height="1"/>
<rect x="825" y="334" width="1" height="1"/>
<rect x="824" y="335" width="2" height="1"/>
<rect x="824" y="336" width="1" height="1"/>
<rect x="824" y="337" width="2" height="1"/>
<rect x="824" y="338" width="2" height="1"/>
<rect x="824" y="339" width="1" height="1"/>
<rect x="824" y="340" width="1" height="1"/>
<rect x="824" y="341" width="2" height="1"/>
<rect x="825" y="342" width="1" height="1"/>
<rect x="825" y="343" width="1" height="1"/>
<rect x="825" y="344" width="1" height="1"/>
<rect x="825" y="345" width="1" height="1"/>
<rect x="825" y="346" width="2" height="1"/>
<rect x="825" y="347" width="2" height="1"/>
<rect x="825" y="348" width="1" height="1"/>
<rect x="825" y="349" width="1" height="1"/>
<rect x="825" y="350" width="1" height="1"/>
<rect x="825" y="351" width="1" height="1"/>
<rect x="825" y="352" width="2" height="1"/>
<rect x="826" y="353" width="1" height="1"/>
<rect x="826" y="354" width="1" height="1"/>
<rect x="825" y="355" width="2" height="1"/>
<rect x="825" y="356" width="2" height="1"/>
<rect x="826" y="357" width="1" height="1"/>
<rect x="826" y="358" width="1" height="1"/>
<rect x="826" y="359" width="1" height="1"/>
<rect x="826" y="360" width="3" height="1"/>
<rect x="826" y="361" width="3" height="1"/>
<rect x="826" y="362" width="1" height="1"/>
<rect x="826" y="363" width="1" height="1"/>
<rect x="826" y="364" width="1" height="1"/>
<rect x="826" y="365" width="1" height="1"/>
<rect x="826" y="366" width="1" height="1"/>
<rect x="826" y="367" width="1" height="1"/>
<rect x="826" y="368" width="1" height="1"/>
<rect x="826" y="369" width="1" height="1"/>
<rect x="826" y="370" width="1" height="1"/>
<rect x="826" y="371" width="1" height="1"/>
<rect x="826" y="372" width="1" height="1"/>
<rect x="826" y="373" width="1" height="1"/>
<rect x="826" y="374" width="1" height="1"/>
<rect x="826" y="375" width="1" height="1"/>
<rect x="826" y="376" width="1" height="1"/>
<rect x="826" y="377" width="2" height="1"/>
<rect x="827" y="378" width="1" height="1"/>
<rect x="827" y="379" width="2" height="1"/>
<rect x="827" y="380" width="2" height="1"/>
<rect x="827" y="381" width="1" height="1"/>
<rect x="827" y="382" width="1" height="1"/>
<rect x="827" y="383" width="1" height="1"/>
<rect x="826" y="384" width="2" height="1"/>
<rect x="826" y="385" width="4" height="1"/>
<rect x="827" y="386" width="3" height="1"/>
<rect x="827" y="387" width="1" height="1"/>
<rect x="827" y="388" width="2" height="1"/>
<rect x="828" y="389" width="1" height="1"/>
<rect x="828" y="390" width="1" height="1"/>
<rect x="827" y="391" width="2" height="1"/>
<rect x="827" y="392" width="1" height="1"/>
<rect x="827" y="393" width="1" height="1"/>
<rect x="827" y="394" width="1" height="1"/>
<rect x="827" y="395" width="1" height="1"/>
<rect x="827" y="396" width="4" height="1"/>
<rect x="827" y="397" width="4" height="1"/>
<rect x="827" y="398" width="1" height="1"/>
<rect x="827" y="399" width="2" height="1"/>
<rect x="827" y="400" width="2" height="1"/>
<rect x="827" y="401" width="1" height="1"/>
<rect x="827" y="402" width="1" height="1"/>
<rect x="827" y="403" width="1" height="1"/>
<rect x="827" y="404" width="1" height="1"/>
<rect x="827" y="405" width="1" height="1"/>
<rect x="827" y="406" width="2" height="1"/>
<rect x="827" y="407" width="2" height="1"/>
<rect x="827" y="408" width="1" height="1"/>
<rect x="827" y="409" width="2" height="1"/>
<rect x="827" y="410" width="2" height="1"/>
<rect x="827" y="411" width="1" height="1"/>
<rect x="827" y="412" width="2" height="1"/>
<rect x="827" y="413" width="2" height="1"/>
<rect x="827" y="414" width="2" height="1"/>
<rect x="828" y="415" width="1" height="1"/>
<rect x="827" y="416" width="2" height="1"/>
<rect x="827" y="417" width="1" height="1"/>
<rect x="827" y="418" width="2" height="1"/>
<rect x="827" y="419" width="2" height="1"/>
<rect x="827" y="420" width="2" height="1"/>
<rect x="827" y="421" width="2" height="1"/>
<rect x="827" y="422" width="1" height="1"/>
<rect x="827" y="423" width="2" height="1"/>
<rect x="828" y="424" width="3" height="1"/>
<rect x="829" y="425" width="2" height="1"/>
<rect x="827" y="426" width="3" height="1"/>
<rect x="827" y="427" width="2" height="1"/>
<rect x="828" y="428" width="1" height="1"/>
<rect x="828" y="429" width="1" height="1"/>
<rect x="828" y="430" width="1" height="1"/>
<rect x="828" y="431" width="3" height="1"/>
<rect x="829" y="432" width="2" height="1"/>
<rect x="829" y="433" width="1" height="1"/>
<rect x="828" y="434" width="2" height="1"/>
<rect x="828" y="435" width="1" height="1"/>
<rect x="828" y="436" width="1" height="1"/>
<rect x="828" y="437" width="1" height="1"/>
<rect x="828" y="438" width="2" height="1"/>
<rect x="828" y="439" width="2" height="1"/>
<rect x="828" y="440" width="1" height="1"/>
<rect x="827" y="441" width="2" height="1"/>
<rect x="827" y="442" width="2" height="1"/>
<rect x="828" y="443" width="1" height="1"/>
<rect x="828" y="444" width="1" height="1"/>
<rect x="828" y="445" width="1" height="1"/>
<rect x="827" y="446" width="2" height="1"/>
<rect x="827" y="447" width="2" height="1"/>
<rect x="828" y="448" width="1" height="1"/>
<rect x="827" y="449" width="2" height="1"/>
<rect x="827" y="450" width="2" height="1"/>
<rect x="828" y="451" width="1" height="1"/>
<rect x="828" y="452" width="1" height="1"/>
<rect x="828" y="453" width="1" height="1"/>
<rect x="828" y="454" width="1" height="1"/>
<rect x="828" y="455" width="2" height="1"/>
<rect x="829" y="456" width="1" height="1"/>
<rect x="828" y="457" width="2" height="1"/>
<rect x="828" y="458" width="2" height="1"/>
<rect x="829" y="459" width="2" height="1"/>
<rect x="828" y="460" width="3" height="1"/>
<rect x="828" y="461" width="1" height="1"/>
<rect x="828" y="462" width="1" height="1"/>
<rect x="828" y="463" width="2" height="1"/>
<rect x="828" y="464" width="2" height="1"/>
<rect x="828" y="465" width="2" height="1"/>
<rect x="828" y="466" width="2" height="1"/>
<rect x="828" y="467" width="2" height="1"/>
<rect x="829" y="468" width="1" height="1"/>
<rect x="829" y="469" width="1" height="1"/>
<rect x="829" y="470" width="1" height="1"/>
<rect x="829" y="471" width="1" height="1"/>
<rect x="829" y="472" width="1" height="1"/>
<rect x="829" y="473" width="1" height="1"/>
<rect x="828" y="474" width="2" height="1"/>
<rect x="828" y="475" width="1" height="1"/>
<rect x="828" y="476" width="2" height="1"/>
<rect x="829" y="477" width="1" height="1"/>
<rect x="829" y="478" width="4" height="1"/>
<rect x="829" y="479" width="4" height="1"/>
<rect x="829" y="480" width="1" height="1"/>
<rect x="829" y="481" width="1" height="1"/>
<rect x="829" y="482" width="1" height="1"/>
<rect x="829" y="483" width="1" height="1"/>
<rect x="829" y="484" width="1" height="1"/>
<rect x="829" y="485" width="1" height="1"/>
<rect x="829" y="486" width="1" height="1"/>
<rect x="829" y="487" width="2" height="1"/>
<rect x="829" y="488" width="2" height="1"/>
<rect x="829" y="489" width="1" height="1"/>
<rect x="829" y="490" width="2" height="1"/>
<rect x="830" y="491" width="1" height="1"/>
<rect x="830" y="492" width="1" height="1"/>
<rect x="830" y="493" width="1" height="1"/>
<rect x="830" y="494" width="1" height="1"/>
<rect x="829" y="495" width="2" height="1"/>
<rect x="829" y="496" width="2" height="1"/>
<rect x="830" y="497" width="1" height="1"/>
<rect x="829" y="498" width="2" height="1"/>
<rect x="829" y="499" width="3" height="1"/>
<rect x="829" y="500" width="3" height="1"/>
<rect x="829" y="501" width="2" height="1"/>
<rect x="830" y="502" width="1" height="1"/>
<rect x="830" y="503" width="1" height="1"/>
<rect x="830" y="504" width="1" height="1"/>
<rect x="830" y="505" width="3" height="1"/>
<rect x="830" y="506" width="3" height="1"/>
<rect x="830" y="507" width="1" height="1"/>
<rect x="830" y="508" width="1" height="1"/>
<rect x="830" y="509" width="1" height="1"/>
<rect x="830" y="510" width="1" height="1"/>
<rect x="829" y="511" width="2" height="1"/>
<rect x="829" y="512" width="2" height="1"/>
<rect x="830" y="513" width="1" height="1"/>
<rect x="830" y="514" width="1" height="1"/>
<rect x="830" y="515" width="2" height="1"/>
<rect x="830" y="516" width="2" height="1"/>
<rect x="830" y="517" width="1" height="1"/>
<rect x="830" y="518" width="1" height="1"/>
<rect x="830" y="519" width="1" height="1"/>
<rect x="830" y="520" width="1" height="1"/>
<rect x="830" y="521" width="1" height="1"/>
<rect x="830" y="522" width="1" height="1"/>
<rect x="830" y="523" width="2" height="1"/>
<rect x="831" y="524" width="1" height="1"/>
<rect x="830" y="525" width="2" height="1"/>
<rect x="830" y="526" width="1" height="1"/>
<rect x="830" y="527" width="1" height="1"/>
<rect x="830" y="528" width="1" height="1"/>
<rect x="830" y="529" width="2" height="1"/>
<rect x="830" y="530" width="2" height="1"/>
<rect x="830" y="531" width="1" height="1"/>
<rect x="830" y="532" width="2" height="1"/>
<rect x="831" y="533" width="1" height="1"/>
<rect x="831" y="534" width="2" height="1"/>
<rect x="832" y="535" width="4" height="1"/>
<rect x="833" y="536" width="3" height="1"/>
<rect x="832" y="537" width="2" height="1"/>
<rect x="832" y="538" width="1" height="1"/>
<rect x="831" y="539" width="2" height="1"/>
<rect x="831" y="540" width="1" height="1"/>
<rect x="831" y="541" width="3" height="1"/>
<rect x="832" y="542" width="2" height="1"/>
<rect x="831" y="543" width="2" height="1"/>
<rect x="831" y="544" width="1" height="1"/>
<rect x="831" y="545" width="3" height="1"/>
<rect x="831" y="546" width="3" height="1"/>
<rect x="831" y="547" width="1" height="1"/>
<rect x="831" y="548" width="1" height="1"/>
<rect x="831" y="549" width="1" height="1"/>
<rect x="831" y="550" width="1" height="1"/>
<rect x="831" y="551" width="1" height="1"/>
<rect x="831" y="552" width="1" height="1"/>
<rect x="831" y="553" width="2" height="1"/>
<rect x="831" y="554" width="2" height="1"/>
<rect x="831" y="555" width="2" height="1"/>
<rect x="832" y="556" width="1" height="1"/>
<rect x="830" y="557" width="3" height="1"/>
<rect x="830" y="558" width="3" height="1"/>
<rect x="832" y="559" width="1" height="1"/>
<rect x="831" y="560" width="2" height="1"/>
<rect x="831" y="561" width="2" height="1"/>
<rect x="832" y="562" width="1" height="1"/>
<rect x="832" y="563" width="2" height="1"/>
<rect x="833" y="564" width="1" height="1"/>
<rect x="832" y="565" width="2" height="1"/>
<rect x="832" y="566" width="2" height="1"/>
<rect x="832" y="567" width="2" height="1"/>
<rect x="832" y="568" width="1" height="1"/>
<rect x="832" y="569" width="1" height="1"/>
<rect x="832" y="570" width="2" height="1"/>
<rect x="833" y="571" width="1" height="1"/>
<rect x="832" y="572" width="2" height="1"/>
<rect x="832" y="573" width="1" height="1"/>
<rect x="832" y="574" width="2" height="1"/>
<rect x="832" y="575" width="2" height="1"/>
<rect x="832" y="576" width="1" height="1"/>
<rect x="832" y="577" width="2" height="1"/>
<rect x="833" y="578" width="4" height="1"/>
<rect x="834" y="579" width="3" height="1"/>
<rect x="833" y="580" width="2" height="1"/>
<rect x="833" y="581" width="1" height="1"/>
<rect x="833" y="582" width="1" height="1"/>
<rect x="833" y="583" width="2" height="1"/>
<rect x="834" y="584" width="1" height="1"/>
<rect x="834" y="585" width="1" height="1"/>
<rect x="834" y="586" width="1" height="1"/>
<rect x="833" y="587" width="2" height="1"/>
<rect x="833" y="588" width="1" height="1"/>
<rect x="833" y="589" width="2" height="1"/>
<rect x="834" y="590" width="1" height="1"/>
<rect x="834" y="591" width="1" height="1"/>
<rect x="834" y="592" width="1" height="1"/>
<rect x="834" y="593" width="1" height="1"/>
<rect x="834" y="594" width="2" height="1"/>
<rect x="834" y="595" width="2" height="1"/>
<rect x="834" y="596" width="1" height="1"/>
<rect x="834" y="597" width="2" height="1"/>
<rect x="835" y="598" width="3" height="1"/>
<rect x="835" y="599" width="3" height="1"/>
<rect x="835" y="600" width="1" height="1"/>
<rect x="835" y="601" width="1" height="1"/>
<rect x="835" y="602" width="1" height="1"/>
<rect x="835" y="603" width="1" height="1"/>
<rect x="835" y="604" width="1" height="1"/>
<rect x="835" y="605" width="2" height="1"/>
<rect x="836" y="606" width="1" height="1"/>
<rect x="836" y="607" width="1" height="1"/>
<rect x="836" y="608" width="1" height="1"/>
<rect x="836" y="609" width="1" height="1"/>
<rect x="836" y="610" width="1" height="1"/>
<rect x="836" y="611" width="1" height="1"/>
<rect x="836" y="612" width="1" height="1"/>
<rect x="835" y="613" width="2" height="1"/>
<rect x="835" y="614" width="3" height="1"/>
<rect x="837" y="615" width="1" height="1"/>
<rect x="837" y="616" width="2" height="1"/>
<rect x="838" y="617" width="1" height="1"/>
<rect x="837" y="618" width="2" height="1"/>
<rect x="837" y="619" width="2" height="1"/>
<rect x="838" y="620" width="3" height="1"/>
<rect x="838" y="621" width="3" height="1"/>
<rect x="838" y="622" width="1" height="1"/>
<rect x="838" y="623" width="2" height="1"/>
<rect x="839" y="624" width="1" height="1"/>
<rect x="839" y="625" width="1" height="1"/>
<rect x="839" y="626" width="1" height="1"/>
<rect x="839" y="627" width="2" height="1"/>
<rect x="840" y="628" width="1" height="1"/>
<rect x="840" y="629" width="1" height="1"/>
<rect x="840" y="630" width="1" height="1"/>
<rect x="840" y="631" width="1" height="1"/>
<rect x="840" y="632" width="4" height="1"/>
<rect x="841" y="633" width="3" height="1"/>
<rect x="841" y="634" width="2" height="1"/>
<rect x="842" y="635" width="1" height="1"/>
<rect x="842" y="636" width="1" height="1"/>
<rect x="842" y="637" width="1" height="1"/>
<rect x="842" y="638" width="2" height="1"/>
<rect x="843" y="639" width="3" height="1"/>
<rect x="843" y="640" width="3" height="1"/>
<rect x="843" y="641" width="1" height="1"/>
<rect x="843" y="642" width="1" height="1"/>
<rect x="843" y="643" width="2" height="1"/>
<rect x="843" y="644" width="2" height="1"/>
<rect x="843" y="645" width="1" height="1"/>
<rect x="843" y="646" width="3" height="1"/>
<rect x="844" y="647" width="2" height="1"/>
<rect x="844" y="648" width="2" height="1"/>
<rect x="845" y="649" width="2" height="1"/>
<rect x="846" y="650" width="1" height="1"/>
<rect x="846" y="651" width="1" height="1"/>
<rect x="846" y="652" width="1" height="1"/>
<rect x="846" y="653" width="1" height="1"/>
<rect x="846" y="654" width="2" height="1"/>
<rect x="847" y="655" width="2" height="1"/>
<rect x="848" y="656" width="1" height="1"/>
<rect x="848" y="657" width="1" height="1"/>
<rect x="848" y="658" width="2" height="1"/>
<rect x="849" y="659" width="2" height="1"/>
<rect x="848" y="660" width="3" height="1"/>
<rect x="848" y="661" width="3" height="1"/>
<rect x="850" y="662" width="2" height="1"/>
<rect x="851" y="663" width="1" height="1"/>
<rect x="851" y="664" width="1" height="1"/>
<rect x="851" y="665" width="1" height="1"/>
<rect x="851" y="666" width="3" height="1"/>
<rect x="853" y="667" width="2" height="1"/>
<rect x="854" y="668" width="1" height="1"/>
<rect x="854" y="669" width="1" height="1"/>
<rect x="854" y="670" width="2" height="1"/>
<rect x="855" y="671" width="2" height="1"/>
<rect x="856" y="672" width="2" height="1"/>
<rect x="857" y="673" width="1" height="1"/>
<rect x="857" y="674" width="1" height="1"/>
<rect x="857" y="675" width="3" height="1"/>
<rect x="859" y="676" width="1" height="1"/>
<rect x="859" y="677" width="3" height="1"/>
<rect x="861" y="678" width="2" height="1"/>
<rect x="862" y="679" width="1" height="1"/>
<rect x="862" y="680" width="2" height="1"/>
<rect x="863" y="681" width="1" height="1"/>
<rect x="863" y="682" width="1" height="1"/>
<rect x="863" y="683" width="2" height="1"/>
<rect x="864" y="684" width="2" height="1"/>
<rect x="865" y="685" width="2" height="1"/>
<rect x="866" y="686" width="2" height="1"/>
<rect x="865" y="687" width="3" height="1"/>
<rect x="865" y="688" width="1" height="1"/>
<rect x="865" y="689" width="31" height="1" fill="#2a2ab0"/>
<rect x="863" y="688" width="14" height="1"/>
</g>
<rect x="930" y="230" width="9" height="461" fill="url(#cb)"/>
<rect x="930.25" y="230.25" width="8.5" height="460.5" fill="none" stroke="#000" stroke-opacity="0.6" stroke-width="0.6"/>
<text x="944.4" y="694.8" font-size="10.67" fill="#333">2</text>
<rect x="935" y="619.77" width="4" height="0.6" fill="#000" fill-opacity="0.6"/>
<text x="944.4" y="623.8" font-size="10.67" fill="#333">4</text>
<rect x="935" y="548.79" width="4" height="0.6" fill="#000" fill-opacity="0.6"/>
<text x="944.4" y="552.8" font-size="10.67" fill="#333">6</text>
<rect x="935" y="477.81" width="4" height="0.6" fill="#000" fill-opacity="0.6"/>
<text x="944.4" y="481.9" font-size="10.67" fill="#333">8</text>
<rect x="935" y="406.83" width="4" height="0.6" fill="#000" fill-opacity="0.6"/>
<text x="944.4" y="410.9" font-size="10.67" fill="#333">10</text>
<rect x="935" y="335.85" width="4" height="0.6" fill="#000" fill-opacity="0.6"/>
<text x="944.4" y="339.9" font-size="10.67" fill="#333">12</text>
<rect x="935" y="264.87" width="4" height="0.6" fill="#000" fill-opacity="0.6"/>
<text x="944.4" y="268.9" font-size="10.67" fill="#333">14</text>
<text x="928" y="223" font-size="10.67" fill="#333">dB</text>
<text x="858" y="212" font-size="10.67" font-weight="bold" text-anchor="middle" fill="#000">PSD</text>
<text x="858" y="225" font-size="10.67" font-weight="bold" text-anchor="middle" fill="#000">Normalizado</text>
<rect x="145" y="89" width="3" height="7" fill="#e00000" shape-rendering="crispEdges"/>
<rect x="145" y="166" width="3" height="7" fill="#e00000" shape-rendering="crispEdges"/>
<text x="153" y="97" font-size="10.67" fill="#999">3000 nm/s</text>
<text x="153" y="173.3" font-size="10.67" fill="#999">50 nm/s</text>
<text x="729" y="97" font-size="10.67" fill="#999">[0.1 25] Hz</text>
<text x="729" y="173.3" font-size="10.67" fill="#999">[4 15] Hz</text>
<text x="161.4" y="718" font-size="13.33" text-anchor="middle" fill="#222">2</text>
<text x="221.2" y="718" font-size="13.33" text-anchor="middle" fill="#222">4</text>
<text x="281.0" y="718" font-size="13.33" text-anchor="middle" fill="#222">6</text>
<text x="340.8" y="718" font-size="13.33" text-anchor="middle" fill="#222">8</text>
<text x="400.7" y="718" font-size="13.33" text-anchor="middle" fill="#222">10</text>
<text x="460.5" y="718" font-size="13.33" text-anchor="middle" fill="#222">12</text>
<text x="520.3" y="718" font-size="13.33" text-anchor="middle" fill="#222">14</text>
<text x="580.1" y="718" font-size="13.33" text-anchor="middle" fill="#222">16</text>
<text x="640.0" y="718" font-size="13.33" text-anchor="middle" fill="#222">18</text>
<text x="699.8" y="718" font-size="13.33" text-anchor="middle" fill="#222">20</text>
<text x="759.6" y="718" font-size="13.33" text-anchor="middle" fill="#222">22</text>
<text x="819.5" y="718" font-size="13.33" text-anchor="middle" fill="#222">24</text>
<text x="88.5" y="635.2" font-size="13.33" text-anchor="end" fill="#222">2</text>
<text x="88.5" y="573.8" font-size="13.33" text-anchor="end" fill="#222">4</text>
<text x="88.5" y="512.4" font-size="13.33" text-anchor="end" fill="#222">6</text>
<text x="88.5" y="450.9" font-size="13.33" text-anchor="end" fill="#222">8</text>
<text x="88.5" y="389.5" font-size="13.33" text-anchor="end" fill="#222">10</text>
<text x="88.5" y="328.1" font-size="13.33" text-anchor="end" fill="#222">12</text>
<text x="88.5" y="266.7" font-size="13.33" text-anchor="end" fill="#222">14</text>
<text x="385.6" y="739" font-size="16.15" fill="#111">Tiempo (horas) - UTC</text>
<text transform="translate(45.6,520.3) rotate(-90)" font-size="16.3" fill="#111" xml:space="preserve">Frecuencia  (Hz)</text>
</svg></body></html>
